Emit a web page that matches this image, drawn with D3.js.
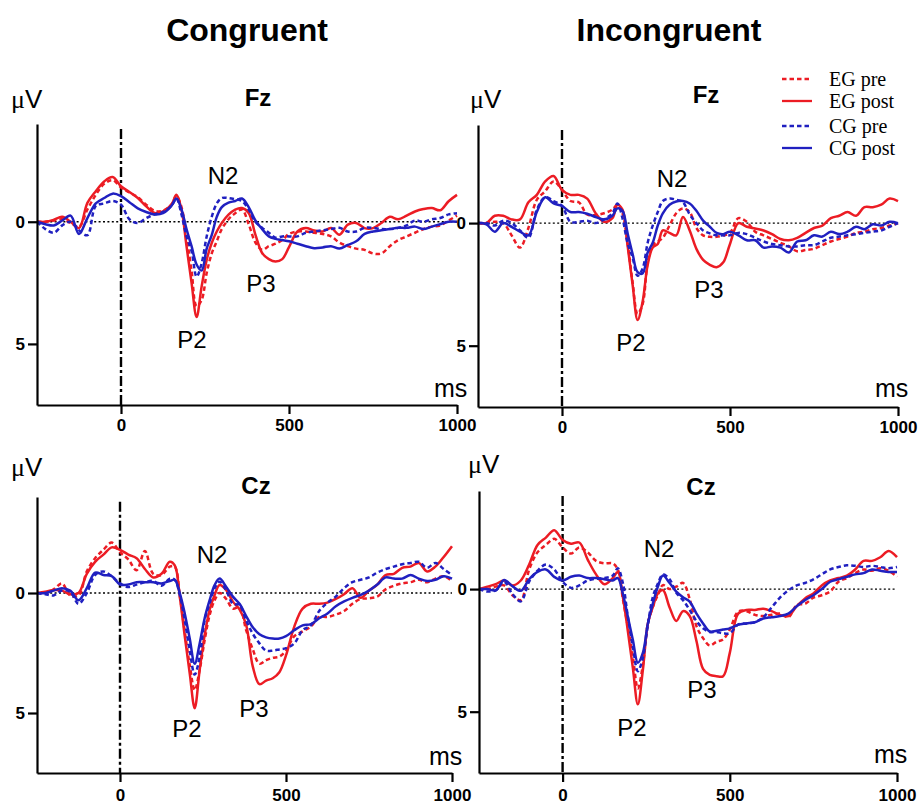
<!DOCTYPE html>
<html>
<head>
<meta charset="utf-8">
<script src="https://cdn.jsdelivr.net/npm/d3@7"></script>
<style>
body { margin: 0; background: #fff; }
svg { display: block; font-family: Arial, "Liberation Sans", sans-serif; }
</style>
</head>
<body>
<svg id="erpSVG" width="921" height="805"></svg>
<script>
// sample times (ms), shared by every waveform
var times = [-250,-225,-200,-175,-150,-125,-100,-75,-50,-25,0,25,50,75,100,125,150,
    165,180,195,210,225,240,255,270,285,300,
    320,340,360,380,400,420,440,460,480,500,
    525,550,575,600,625,650,675,700,725,750,775,800,825,850,875,900,925,950,975,1000];

var seriesNames = ['EG pre', 'EG post', 'CG pre', 'CG post'];
var conditions = ['Congruent', 'Incongruent'];
var xTicks = [0, 500, 1000];
var yTicks = [0, 5];

// amplitudes in uV (positive plotted downward)
var fzConEGpre = [0,0,-0.05,-0.1,0.05,0.2,-0.5,-1.1,-1.55,-1.7,-1.4,-1.2,-1.0,-0.7,-0.45,-0.45,-0.7,
    -1.05,-0.6,0.6,2.0,3.45,3.2,2.1,1.3,0.8,0.3,
    -0.1,-0.35,-0.5,0.1,0.85,1.15,1.0,0.9,0.75,0.5,
    0.4,0.4,0.45,0.5,0.6,0.85,1.0,1.1,1.15,1.3,1.3,1.0,0.75,0.6,0.45,0.3,0.2,0.15,-0.05,-0.25];
var fzConEGpost = [0,0,-0.08,-0.2,0,0.26,-0.77,-1.25,-1.65,-1.83,-1.45,-1.22,-0.97,-0.63,-0.36,-0.42,-0.7,
    -1.1,-0.5,1.0,2.5,3.9,2.65,1.56,0.87,0.4,0.05,
    -0.29,-0.5,-0.56,-0.36,0.53,1.28,1.53,1.63,1.53,1.04,
    0.4,0.26,0.36,0.4,0.26,0.53,0.12,0.05,0.26,0.26,0.05,-0.2,-0.1,-0.25,-0.42,-0.52,-0.56,-0.47,-0.84,-1.1];
var fzConCGpre = [0,0.3,0.45,0.15,0,0.35,0.55,-0.65,-0.75,-0.85,-0.7,-0.1,0.05,-0.15,-0.3,-0.4,-0.65,
    -0.95,-0.3,0.6,1.2,2.25,1.7,0.6,-0.2,-0.75,-0.97,
    -0.97,-0.92,-0.85,-0.5,0.0,0.25,0.45,0.65,0.6,0.6,
    0.6,0.45,0.4,0.35,0.3,0.25,0.4,0.4,0.25,0.25,0.3,0.3,0.25,0.15,-0.05,0.0,-0.1,-0.15,-0.3,-0.35];
var fzConCGpost = [0,0.1,0.15,-0.05,-0.25,0.5,-0.15,-0.75,-0.97,-1.15,-1.05,-0.8,-0.55,-0.4,-0.3,-0.35,-0.65,
    -0.95,-0.5,0.3,1.0,1.75,2.0,1.1,0.55,-0.2,-0.6,
    -0.78,-0.85,-0.95,-0.6,-0.05,0.3,0.6,0.7,0.75,0.8,
    0.9,1.0,1.08,1.05,1.0,1.1,0.95,0.8,0.5,0.4,0.35,0.3,0.25,0.25,0.2,0.3,0.2,0.1,0.0,0.0];

var fzIncEGpre = [0,0,-0.05,0.0,0.5,1.0,0.2,-0.95,-1.3,-1.7,-1.35,-0.9,-0.85,-0.35,-0.33,-0.4,-0.55,
    -0.75,-0.4,0.8,2.4,3.7,3.3,1.6,0.9,0.75,0.6,
    0.1,-0.4,-0.6,-0.45,0.2,0.5,0.56,0.56,0.5,0.4,
    -0.2,-0.05,0.35,0.5,0.65,0.8,0.95,1.15,1.1,1.05,0.9,0.75,0.65,0.55,0.4,0.35,0.25,0.2,0.1,0.0];
var fzIncEGpost = [0,0,-0.3,-0.3,-0.15,-0.15,-0.85,-1.15,-1.7,-1.92,-1.35,-1.15,-1.15,-1.0,-0.4,-0.05,-0.2,
    -0.75,-0.55,0.9,2.5,3.95,3.2,1.7,1.0,0.85,0.3,
    0.4,0.5,-0.25,0.3,1.05,1.5,1.7,1.8,1.6,0.85,
    0.0,0.15,0.22,0.3,0.45,0.65,0.7,0.6,0.4,0.2,0.1,-0.2,-0.3,-0.45,-0.3,-0.65,-0.65,-0.75,-1.0,-0.9];
var fzIncCGpre = [0,0,0.1,-0.1,0,0.3,0.6,-0.55,-1.05,-0.9,-0.7,-0.05,-0.05,-0.1,0.0,-0.15,-0.4,
    -0.8,-0.2,0.8,1.4,2.15,1.85,0.8,0.1,-0.45,-0.9,
    -1.0,-0.95,-0.85,-0.35,0.0,0.3,0.42,0.5,0.5,0.5,
    0.4,0.45,0.6,0.75,0.85,0.9,0.95,0.95,0.9,0.9,0.75,0.6,0.55,0.5,0.45,0.4,0.35,0.3,0.15,0.0];
var fzIncCGpost = [0,0.05,0.35,0.0,0.15,0.35,0.5,-0.45,-1.05,-0.8,-0.7,-0.45,-0.45,-0.38,-0.25,-0.15,-0.3,
    -0.6,-0.5,0.4,1.25,2.0,2.05,1.2,0.8,0.1,-0.4,
    -0.75,-0.88,-0.9,-0.8,-0.5,-0.1,0.15,0.4,0.45,0.35,
    0.5,0.7,0.7,1.0,0.95,1.0,1.2,0.75,0.7,0.5,0.55,0.35,0.45,0.35,0.15,0.25,0.05,0.1,-0.05,0.0];

var czConEGpre = [0,0,-0.15,-0.4,0.1,0.1,-0.9,-1.45,-1.8,-2.1,-1.7,-1.4,-0.95,-1.75,-0.8,-0.75,-1.1,
    -1.1,0.1,1.6,3.0,4.05,3.2,1.96,0.92,0.3,0.0,
    0.25,0.65,0.6,1.55,2.35,2.95,2.8,2.7,2.65,2.4,
    1.8,1.6,1.4,1.0,1.0,0.9,0.75,0.45,0.25,0.22,0.15,-0.15,-0.3,-0.4,-0.45,-0.55,-0.45,-0.6,-0.7,-0.5];
var czConEGpost = [0,-0.05,-0.12,-0.1,0.05,0.0,-0.8,-1.3,-1.6,-1.9,-1.8,-1.6,-1.45,-1.0,-0.65,-0.8,-1.3,
    -1.15,0.15,1.8,3.35,4.8,3.2,1.75,0.7,0.08,-0.33,
    -0.12,0.36,0.68,1.33,3.07,3.8,3.65,3.55,3.3,2.6,
    1.4,0.65,0.45,0.45,0.4,0.25,0.05,-0.2,0.2,-0.1,-0.35,-0.75,-0.8,-1.05,-1.1,-1.25,-0.9,-1.1,-1.5,-1.95];
var czConCGpre = [0,0.05,0.1,-0.1,-0.05,0.45,0.0,-0.75,-0.9,-0.7,-0.4,-0.25,-0.35,-0.45,-0.5,-0.3,-0.6,
    -0.55,0.08,1.13,2.4,3.4,2.65,1.13,0.43,-0.2,-0.47,
    -0.1,0.45,0.5,1.15,1.7,2.1,2.4,2.4,2.35,2.3,
    2.1,1.55,1.35,0.75,0.4,0.15,-0.2,-0.45,-0.55,-0.65,-0.85,-1.0,-1.1,-1.2,-1.25,-1.3,-1.05,-1.25,-1.0,-0.75];
var czConCGpost = [0,0,-0.1,-0.2,-0.1,0.3,-0.2,-0.85,-0.75,-0.7,-0.35,-0.35,-0.45,-0.45,-0.45,-0.4,-0.5,
    -0.55,0.0,0.85,1.9,2.95,2.1,1.05,0.3,-0.33,-0.6,
    -0.25,0.15,0.45,0.96,1.43,1.72,1.85,1.9,1.9,1.8,
    1.55,1.35,1.3,1.05,0.85,0.55,0.35,0.2,0.08,-0.1,-0.35,-0.65,-0.6,-0.6,-0.75,-0.6,-0.5,-0.55,-0.7,-0.6];

var czIncEGpre = [0,0,-0.1,-0.15,0.25,0.45,-0.8,-1.5,-1.8,-2.05,-1.7,-1.45,-1.7,-1.5,-1.15,-1.05,-1.05,
    -0.8,0.38,1.53,2.75,4.05,3.1,1.4,0.72,0.24,-0.16,
    0.0,-0.1,-0.25,0.4,1.5,2.0,2.3,2.15,2.05,1.65,
    0.92,0.9,1.05,1.1,1.05,1.0,1.15,0.65,0.6,0.35,0.25,0.1,-0.3,-0.45,-0.65,-0.8,-0.75,-0.85,-0.75,-0.5];
var czIncEGpost = [0,-0.1,-0.2,-0.35,-0.15,-0.35,-1.0,-1.8,-2.1,-2.4,-2.0,-1.85,-1.9,-1.2,-0.6,-0.2,-0.45,
    -0.7,0.3,1.7,3.2,4.7,3.3,1.4,0.72,0.18,0.04,
    0.75,1.3,0.9,1.1,2.1,3.25,3.5,3.55,3.55,2.6,
    1.0,0.85,0.85,0.8,0.9,1.05,1.1,0.7,0.38,0.18,-0.15,-0.35,-0.45,-0.55,-0.8,-1.15,-1.15,-1.3,-1.55,-1.3];
var czIncCGpre = [0,0.1,0.05,-0.3,0.2,0.5,-0.3,-0.75,-1.0,-0.8,-0.3,-0.05,-0.15,-0.35,-0.42,-0.45,-0.55,
    -0.85,-0.26,1.12,2.34,3.35,2.8,1.46,0.31,-0.23,-0.6,
    -0.4,0.15,0.45,0.85,1.3,1.6,1.75,1.75,1.8,1.8,
    1.45,1.4,1.35,1.15,0.75,0.35,0.05,-0.15,-0.25,-0.4,-0.6,-0.8,-0.9,-0.97,-0.95,-0.9,-0.95,-0.9,-0.85,-0.9];
var czIncCGpost = [0,0.0,0.05,-0.37,-0.12,0.07,-0.4,-0.7,-0.8,-0.5,-0.35,-0.5,-0.55,-0.45,-0.45,-0.4,-0.35,
    -0.45,0.18,1.12,2.07,3.0,2.6,1.4,0.58,-0.1,-0.55,
    -0.25,0.1,0.33,0.51,0.99,1.4,1.73,1.7,1.65,1.6,
    1.45,1.4,1.35,1.2,1.15,1.1,1.0,0.7,0.45,0.25,0.0,-0.3,-0.4,-0.5,-0.6,-0.65,-0.8,-0.75,-0.7,-0.7];

var RED = '#ec1c24', BLUE = '#2020c0';
var lineStyles = [
    { color: RED, dash: '4.5,3' },
    { color: RED, dash: null },
    { color: BLUE, dash: '4.5,3' },
    { color: BLUE, dash: null }
];

var panels = [
    { site: 'Fz', x0: 37, x1: 457, yTop: 124, yBot: 405, pad: 5,
      series: [fzConEGpre, fzConEGpost, fzConCGpre, fzConCGpost],
      uv: [11, 108], title: [258, 106], ms: [434, 397],
      peaks: [['N2', 223, 184], ['P2', 192, 348], ['P3', 261, 292]] },
    { site: 'Fz', x0: 478, x1: 898, yTop: 125, yBot: 407, pad: 5,
      series: [fzIncEGpre, fzIncEGpost, fzIncCGpre, fzIncCGpost],
      uv: [470, 108], title: [706, 103], ms: [875, 397],
      peaks: [['N2', 672, 187], ['P2', 631, 351], ['P3', 709, 298]] },
    { site: 'Cz', x0: 37, x1: 452, yTop: 497, yBot: 773, pad: 7,
      series: [czConEGpre, czConEGpost, czConCGpre, czConCGpost],
      uv: [11, 476], title: [256, 494], ms: [429, 765],
      peaks: [['N2', 212, 563], ['P2', 187, 737], ['P3', 254, 717]] },
    { site: 'Cz', x0: 479, x1: 897, yTop: 491, yBot: 773, pad: 7,
      series: [czIncEGpre, czIncEGpost, czIncCGpre, czIncCGpost],
      uv: [468, 473], title: [701, 495], ms: [874, 763],
      peaks: [['N2', 659, 557], ['P2', 632, 736], ['P3', 702, 698]] }
];

var svg = d3.select('#erpSVG');
svg.append('rect').attr('width', 921).attr('height', 805).attr('fill', '#fff');

function drawPanel(p) {
    var g = svg.append('g');
    var x = d3.scaleLinear().domain([-250, 1000]).range([p.x0, p.x1]);
    var y = d3.scaleLinear().domain([-4, 7.5]).range([p.yTop, p.yBot]);

    // baseline
    g.append('line')
        .attr('x1', x(-250)).attr('x2', x(1000))
        .attr('y1', y(0)).attr('y2', y(0))
        .attr('stroke', '#000').attr('stroke-width', 1.3)
        .attr('stroke-dasharray', '2,2.4');

    // stimulus onset
    g.append('line')
        .attr('x1', x(0)).attr('x2', x(0))
        .attr('y1', y(-3.8)).attr('y2', y(7.5))
        .attr('stroke', '#000').attr('stroke-width', 2.4)
        .attr('stroke-dasharray', '10,3,3,3');

    var line = d3.line()
        .x(function(d, i) { return x(times[i]); })
        .y(function(d) { return y(d); })
        .curve(d3.curveCatmullRom.alpha(0.5));

    p.series.forEach(function(vals, k) {
        g.append('path')
            .datum(vals)
            .attr('d', line)
            .attr('fill', 'none')
            .attr('stroke', lineStyles[k].color)
            .attr('stroke-width', 2.5)
            .attr('stroke-linejoin', 'round')
            .attr('stroke-dasharray', lineStyles[k].dash);
    });

    var yAxis_g = g.append('g')
        .attr('transform', 'translate(' + p.x0 + ',0)')
        .call(d3.axisLeft(y).tickValues(yTicks).tickSize(9).tickSizeOuter(0).tickPadding(3));
    var xAxis_g = g.append('g')
        .attr('transform', 'translate(0,' + p.yBot + ')')
        .call(d3.axisBottom(x).tickValues(xTicks).tickFormat(d3.format('d'))
            .tickSize(9).tickSizeOuter(0).tickPadding(p.pad));

    [yAxis_g, xAxis_g].forEach(function(a) {
        a.select('.domain').attr('stroke-width', 2.2);
        a.selectAll('.tick line').attr('stroke-width', 2.2);
        a.selectAll('.tick text')
            .attr('font-size', 17).attr('font-weight', 'bold')
            .attr('font-family', 'Arial, "Liberation Sans", sans-serif')
            .attr('fill', '#000');
    });

    // unit labels
    var uv = g.append('text').attr('x', p.uv[0]).attr('y', p.uv[1]).attr('font-size', 26);
    uv.append('tspan').attr('font-family', '"Liberation Serif", serif').text('\u03bc');
    uv.append('tspan').text('V');

    g.append('text')
        .attr('x', p.ms[0]).attr('y', p.ms[1])
        .attr('font-size', 25)
        .text('ms');

    g.append('text')
        .attr('x', p.title[0]).attr('y', p.title[1])
        .attr('text-anchor', 'middle')
        .attr('font-size', 24).attr('font-weight', 'bold')
        .text(p.site);

    p.peaks.forEach(function(pk) {
        g.append('text')
            .attr('x', pk[1]).attr('y', pk[2])
            .attr('text-anchor', 'middle')
            .attr('font-size', 24)
            .text(pk[0]);
    });
}

panels.forEach(drawPanel);

// column headings
svg.append('text').attr('x', 247).attr('y', 41)
    .attr('text-anchor', 'middle').attr('font-size', 32).attr('font-weight', 'bold')
    .text(conditions[0]);
svg.append('text').attr('x', 669).attr('y', 41)
    .attr('text-anchor', 'middle').attr('font-size', 32).attr('font-weight', 'bold')
    .text(conditions[1]);

// legend
var legendY = [79, 101, 126, 148];
var legend = svg.append('g');
seriesNames.forEach(function(name, k) {
    legend.append('line')
        .attr('x1', 782).attr('x2', 812)
        .attr('y1', legendY[k]).attr('y2', legendY[k])
        .attr('stroke', lineStyles[k].color).attr('stroke-width', 2.3)
        .attr('stroke-dasharray', lineStyles[k].dash);
    legend.append('text')
        .attr('x', 829).attr('y', legendY[k] + 7)
        .attr('font-family', '"Liberation Serif", "Times New Roman", serif')
        .attr('font-size', 20)
        .text(name);
});
</script>
</body>
</html>
